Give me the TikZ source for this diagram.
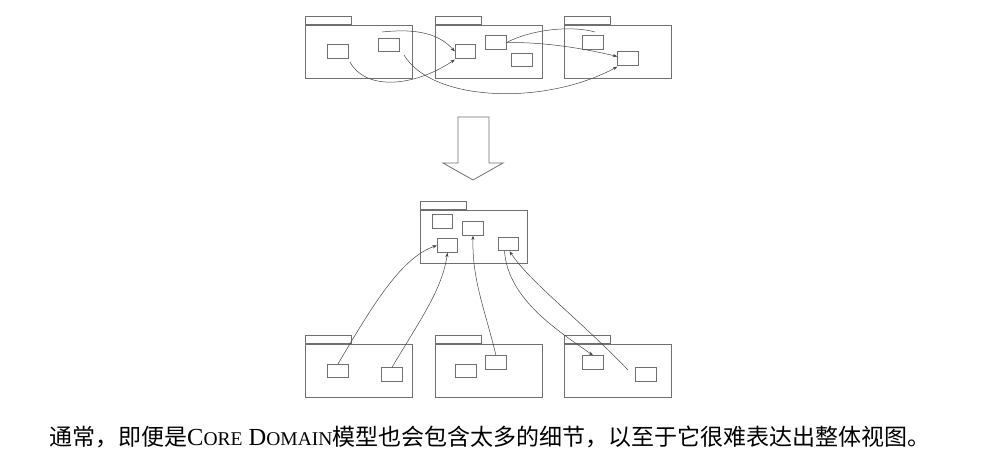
\documentclass[tikz,border=0pt]{standalone}
\usepackage{fontspec}
\setmainfont{Liberation Serif}
\newfontfamily\cjk{Noto Sans CJK SC}
\usetikzlibrary{arrows.meta}
\definecolor{boxc}{HTML}{707070}
\definecolor{linec}{HTML}{454545}
\tikzset{
  pbody/.style={draw=boxc, line width=0.8pt, minimum width=107pt, minimum height=53pt, inner sep=0pt},
  ptab/.style={draw=boxc, line width=0.8pt, minimum width=46pt, minimum height=8pt, inner sep=0pt},
  ibox/.style={draw=boxc, line width=0.8pt, minimum width=20.5pt, minimum height=13.5pt, inner sep=0pt},
  conn/.style={draw=linec, line width=0.5pt},
  arr/.style={conn, -{Stealth[length=4.5pt,width=3.2pt]}},
}
\newcommand\mypkg[3]{%
  \node[pbody, anchor=north west] (#1) at (#2,#3) {};
  \node[ptab, anchor=south west] (#1t) at (#1.north west) {};}
\begin{document}
\begin{tikzpicture}[x=1pt,y=-1pt]
\useasboundingbox (0,0) rectangle (983,461);
% top row
\mypkg{p1}{305}{25}
\mypkg{p2}{435}{25}
\mypkg{p3}{564}{25}
\node[ibox] (A) at (338,51.5) {};
\node[ibox] (B) at (389,45) {};
\node[ibox] (C) at (465.5,51.5) {};
\node[ibox] (D) at (496,42.5) {};
\node[ibox] (E) at (522,60) {};
\node[ibox] (F) at (593,42.5) {};
\node[ibox] (G) at (628,58.5) {};
\coordinate (s1) at (382,32);
\coordinate (s2) at (350,62);
\coordinate (s3) at (404,55);
\coordinate (s5) at (595,32);
\draw[arr] (s1) .. controls (420,28) and (440,35) .. (C.west);
\draw[arr] (s2) .. controls (365,90) and (412,88) .. ([yshift=-1pt]C.south west);
\draw[arr] (s3) .. controls (432,102) and (545,106) .. ([yshift=-1pt]G.south west);
\draw[arr] (D.east) .. controls (550,42) and (590,50) .. ([yshift=2pt]G.west);
\draw[conn] (D.east) .. controls (530,30) and (570,25) .. (s5);
% big arrow
\draw[draw=boxc, line width=0.8pt] (458,117) -- (489,117) -- (489,163) -- (503,163) -- (473,180) -- (443,163) -- (458,163) -- cycle;
% middle package
\mypkg{pm}{420}{210}
\node[ibox] (H) at (442.5,221.5) {};
\node[ibox] (I) at (473,228.5) {};
\node[ibox] (J) at (447.5,245.5) {};
\node[ibox] (K) at (508.5,244) {};
% bottom row
\mypkg{q1}{305}{344}
\mypkg{q2}{435}{344}
\mypkg{q3}{564}{344}
\node[ibox] (L) at (338,371) {};
\node[ibox] (M) at (392,374.5) {};
\node[ibox] (N) at (466,371) {};
\node[ibox] (O) at (496,362.5) {};
\node[ibox] (P) at (593,362.5) {};
\node[ibox] (Q) at (646,374.5) {};
\coordinate (t5) at (628,370);
\draw[arr] (L.north) .. controls (370,310) and (400,258) .. (J.west);
\draw[arr] (M.north) .. controls (420,320) and (442,290) .. (J.south);
\draw[arr] (O.north) .. controls (485,310) and (472,280) .. (I.south);
\draw[arr] ([xshift=-4pt]K.south) .. controls (508,300) and (560,332) .. (P.north);
\draw[arr] (t5) .. controls (580,320) and (530,282) .. ([xshift=1pt]K.south);
% caption
\node[anchor=base west, inner sep=0pt] (cap) at (49,445) {{\fontsize{23}{23}\selectfont\cjk 通常，即便是}{\fontsize{24.5}{24.5}\selectfont C}{\fontsize{19.5}{19.5}\selectfont ORE}{\fontsize{24.5}{24.5}\selectfont\ D}{\fontsize{19.5}{19.5}\selectfont OMAIN}{\fontsize{23}{23}\selectfont\cjk 模型也会包含太多的细节，以至于它很难表达出整体视图。}};
\end{tikzpicture}
\end{document}
